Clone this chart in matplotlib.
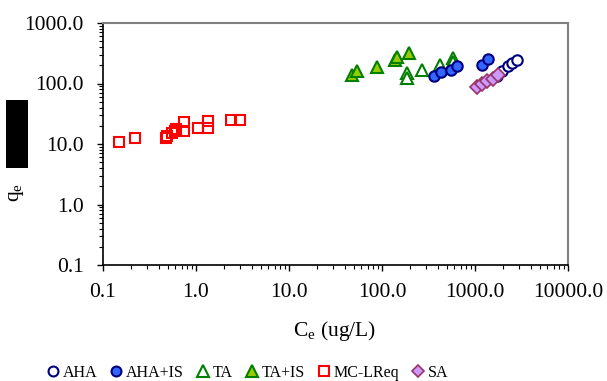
import matplotlib
matplotlib.use("Agg")
import matplotlib.pyplot as plt
from matplotlib.ticker import LogLocator, FuncFormatter, NullFormatter
from matplotlib.patches import Rectangle

plt.rcParams['font.family'] = ['Liberation Serif', 'DejaVu Serif']
plt.rcParams['mathtext.fontset'] = 'custom'
plt.rcParams['mathtext.rm'] = 'Liberation Serif'

# data (Ce ug/L, qe)
aha_x = [1725, 1950, 2280, 2510, 2810]
aha_y = [133, 164, 195, 216, 248]
ahais_x = [362, 426, 548, 635, 1180, 1390]
ahais_y = [133, 152, 167, 195, 206, 251]
ta_x = [184, 184, 267, 421, 580, 580]
ta_y = [149, 123, 170, 202, 264, 227]
tais_x = [47.2, 53.8, 88.3, 138, 145, 195]
tais_y = [138, 161, 187, 245, 274, 319]
mc_x = [0.15, 0.22, 0.48, 0.49, 0.55, 0.59, 0.61, 0.75, 0.75, 1.06, 1.36, 1.36, 2.36, 2.97]
mc_y = [10.9, 12.7, 12.7, 13.7, 15.0, 16.4, 17.9, 23.4, 16.4, 18.4, 24.3, 18.4, 24.9, 24.9]
sa_x = [1043, 1195, 1362, 1543, 1767]
sa_y = [86.5, 97.3, 109, 120, 137]

fig = plt.figure(figsize=(6.07, 3.81), dpi=100)
ax = fig.add_axes([103/607, 1-265/381, 465/607, 242/381])

ms = 7.5
ax.plot(mc_x, mc_y, 's', ms=ms, mfc='none', mec='#FF0000', mew=1.5, label='MC-LReq')
ax.plot(ta_x, ta_y, '^', ms=ms+1.5, mfc='white', mec='#008000', mew=1.5, label='TA')
ax.plot(tais_x, tais_y, '^', ms=ms+1.5, mfc='#99CC00', mec='#008000', mew=1.5, label='TA+IS')
ax.plot(ahais_x, ahais_y, 'o', ms=ms, mfc='#3366FF', mec='#000080', mew=1.5, label='AHA+IS')
ax.plot(aha_x, aha_y, 'o', ms=ms, mfc='white', mec='#000080', mew=1.5, label='AHA')
ax.plot(sa_x, sa_y, 'D', ms=ms-0.8, mfc='#CC99FF', mec='#993366', mew=1.2, label='SA')

ax.set_xscale('log')
ax.set_yscale('log')
ax.set_xlim(0.1, 10000)
ax.set_ylim(0.1, 1000)

fmt = FuncFormatter(lambda v, p: '%.1f' % v)
ax.xaxis.set_major_locator(LogLocator(base=10, numticks=10))
ax.yaxis.set_major_locator(LogLocator(base=10, numticks=10))
ax.xaxis.set_major_formatter(fmt)
ax.yaxis.set_major_formatter(fmt)
ax.xaxis.set_minor_formatter(NullFormatter())
ax.yaxis.set_minor_formatter(NullFormatter())
ax.tick_params(which='major', direction='out', length=4, width=1, labelsize=15.5)
ax.tick_params(axis='x', which='major', pad=9)
ax.tick_params(axis='y', which='major', pad=10)
ax.tick_params(which='minor', direction='out', length=3, width=0.8)
for s in ['top', 'right']:
    ax.spines[s].set_color('#808080')
    ax.spines[s].set_linewidth(1.5)
for s in ['left', 'bottom']:
    ax.spines[s].set_linewidth(1.2)

fig.text(335/607, 1-331/381, r'C$_\mathrm{e}$ (ug/L)', ha='center', va='center', fontsize=15.5)
fig.text(17/607, 1-192/381, r'q$_\mathrm{e}$', ha='center', va='center', fontsize=15.5, rotation=90)
fig.patches.append(Rectangle((6/607, 1-168/381), 22/607, 68/381, transform=fig.transFigure,
                             facecolor='black', edgecolor='none'))

h, l = ax.get_legend_handles_labels()
order = ['AHA', 'AHA+IS', 'TA', 'TA+IS', 'MC-LReq', 'SA']
hd = dict(zip(l, h))
fig.legend([hd[k] for k in order], order, loc='center', bbox_to_anchor=(247/607, 1-373/381),
           ncol=6, frameon=False, fontsize=11.5, handletextpad=0.15, columnspacing=0.75,
           handlelength=0.9, markerscale=0.95)

fig.savefig('out.png', dpi=100)
